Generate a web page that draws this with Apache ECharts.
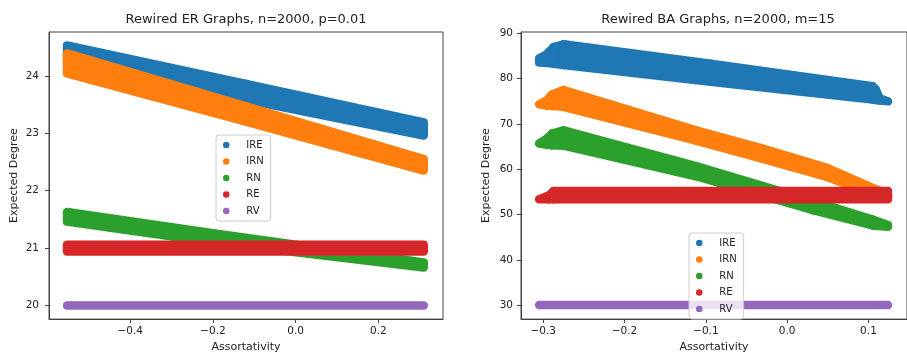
<!DOCTYPE html>
<html><head><meta charset="utf-8">
<script src="https://cdn.jsdelivr.net/npm/echarts@6/dist/echarts.min.js"></script>
<style>html,body{margin:0;padding:0;background:#fff}#c{width:907px;height:358px}</style>
</head><body><div id="c"></div>
<script>
// ---------- data ----------
const seriesNames = ['IRE', 'IRN', 'RN', 'RE', 'RV'];

// Left panel: Rewired ER Graphs (band samples: x, lower and upper extent of the point cloud)
const erIREx  = [-0.553, -0.12, 0.310];
const erIRElo = [24.22, 23.58, 22.96];
const erIREhi = [24.53, 23.86, 23.19];
const erIRNx  = [-0.553, -0.12, 0.310];
const erIRNlo = [24.04, 23.20, 22.35];
const erIRNhi = [24.39, 23.47, 22.55];
const erRNx   = [-0.553, -0.20, 0.310];
const erRNlo  = [21.46, 21.10, 20.66];
const erRNhi  = [21.63, 21.26, 20.75];
const erREx   = [-0.553, 0.310];
const erRElo  = [20.94, 20.94];
const erREhi  = [21.06, 21.06];
const erRVx   = [-0.553, 0.310];
const erRVlo  = [20.0, 20.0];
const erRVhi  = [20.0, 20.0];

// Right panel: Rewired BA Graphs
const baIREx  = [-0.305, -0.297, -0.287, -0.275, -0.094, 0.105, 0.109, 0.114, 0.124];
const baIRElo = [83.6, 83.5, 83.3, 83.0, 79.35, 75.4, 75.3, 75.2, 75.0];
const baIREhi = [84.5, 85.2, 87.0, 87.6, 83.3, 78.35, 77.6, 75.6, 75.0];
const baIRNx  = [-0.305, -0.2965, -0.289, -0.275, -0.112, -0.032, 0.049, 0.113, 0.124];
const baIRNlo = [74.35, 74.1, 73.95, 73.8, 66.3, 62.4, 58.3, 54.0, 53.6];
const baIRNhi = [74.35, 75.1, 76.5, 77.5, 68.6, 64.7, 60.3, 55.3, 54.0];
const baRNx   = [-0.305, -0.295, -0.289, -0.275, -0.112, 0.033, 0.105, 0.124];
const baRNlo  = [65.7, 65.4, 65.3, 65.2, 58.45, 50.9, 47.6, 47.3];
const baRNhi  = [65.7, 66.8, 67.9, 68.6, 60.7, 52.9, 48.9, 47.7];
const baREx   = [-0.305, -0.293, -0.287, 0.124];
const baRElo  = [53.4, 53.4, 53.4, 53.4];
const baREhi  = [53.4, 54.2, 55.2, 55.2];
const baRVx   = [-0.305, 0.124];
const baRVlo  = [30.0, 30.0];
const baRVhi  = [30.0, 30.0];

// Tick labels
const erXTicks = [-0.4, -0.2, 0.0, 0.2];
const erYTicks = [20, 21, 22, 23, 24];
const baXTicks = [-0.3, -0.2, -0.1, 0.0, 0.1];
const baYTicks = [30, 40, 50, 60, 70, 80, 90];

const titles = ['Rewired ER Graphs, n=2000, p=0.01', 'Rewired BA Graphs, n=2000, m=15'];

// ---------- styles ----------
const colors = ['#1f77b4', '#ff7f0e', '#2ca02c', '#d62728', '#9467bd'];
const FONT = 'DejaVu Sans';
const TXT = '#222';
const MARK = 8.5;

function bandSeries(name, color, xs, lo, hi, axisIdx) {
  const data = xs.map((x, i) => [x, lo[i], hi[i]]);
  return {
    type: 'custom', name, xAxisIndex: axisIdx, yAxisIndex: axisIdx, data,
    encode: { x: 0, y: [1, 2] },
    itemStyle: { color },
    silent: true,
    renderItem(params, api) {
      const i = params.dataIndex;
      if (data.length > 1 && i === data.length - 1) return null;
      const a = data[i], b = data[Math.min(i + 1, data.length - 1)];
      const pts = [api.coord([a[0], a[2]]), api.coord([b[0], b[2]]),
                   api.coord([b[0], b[1]]), api.coord([a[0], a[1]])];
      return { type: 'polygon', shape: { points: pts },
        style: { fill: color, stroke: color, lineWidth: MARK, lineJoin: 'round' } };
    }
  };
}

const fmtX = v => (v < 0 ? '\u2212' : '') + Math.abs(v).toFixed(1);

function xAxis(idx, min, max, ticks) {
  return {
    type: 'value', gridIndex: idx, min, max,
    name: 'Assortativity', nameLocation: 'middle', nameGap: 21,
    nameTextStyle: { fontSize: 11, color: TXT, fontFamily: FONT },
    axisLine: { show: true, onZero: false, lineStyle: { color: '#444', width: 1 } },
    axisTick: { show: true, length: 4, customValues: ticks, lineStyle: { color: '#444' } },
    axisLabel: { customValues: ticks, formatter: fmtX, fontSize: 10.5, color: TXT, fontFamily: FONT, margin: 7 },
    splitLine: { show: false }
  };
}
function yAxis(idx, min, max, ticks, margin) {
  return {
    type: 'value', gridIndex: idx, min, max,
    name: 'Expected Degree', nameLocation: 'middle', nameGap: 29,
    nameTextStyle: { fontSize: 11, color: TXT, fontFamily: FONT },
    axisLine: { show: true, onZero: false, lineStyle: { color: '#444', width: 1 } },
    axisTick: { show: true, length: 4, customValues: ticks, lineStyle: { color: '#444' } },
    axisLabel: { customValues: ticks, formatter: v => String(v), fontSize: 10.5, color: TXT, fontFamily: FONT, margin },
    splitLine: { show: false }
  };
}
function legend(left, top) {
  return {
    orient: 'vertical', left, top, icon: 'circle',
    itemWidth: 16, itemHeight: 6.5, itemGap: 4.5,
    padding: [4, 7, 4, 7],
    backgroundColor: 'rgba(255,255,255,0.8)', borderColor: '#cccccc', borderWidth: 1, borderRadius: 3,
    textStyle: { fontSize: 10, color: TXT, fontFamily: FONT, lineHeight: 12, padding: [0, 0, 0, 7] },
    selectedMode: false,
    data: seriesNames.map((n, k) => ({ name: n, itemStyle: { color: colors[k] } }))
  };
}

const er = [[erIREx, erIRElo, erIREhi], [erIRNx, erIRNlo, erIRNhi], [erRNx, erRNlo, erRNhi], [erREx, erRElo, erREhi], [erRVx, erRVlo, erRVhi]];
const ba = [[baIREx, baIRElo, baIREhi], [baIRNx, baIRNlo, baIRNhi], [baRNx, baRNlo, baRNhi], [baREx, baRElo, baREhi], [baRVx, baRVlo, baRVhi]];

const series = [];
er.forEach((s, k) => series.push(bandSeries(seriesNames[k], colors[k], s[0], s[1], s[2], 0)));
ba.forEach((s, k) => series.push(bandSeries(seriesNames[k], colors[k], s[0], s[1], s[2], 1)));

const chart = echarts.init(document.getElementById('c'), null, { renderer: 'canvas' });
chart.setOption({
  animation: false,
  backgroundColor: '#fff',
  textStyle: { fontFamily: FONT },
  title: [
    { text: titles[0], left: 246, top: 13, textAlign: 'center', padding: 0,
      textStyle: { fontSize: 13, fontWeight: 'normal', color: TXT, fontFamily: FONT } },
    { text: titles[1], left: 718, top: 13, textAlign: 'center', padding: 0,
      textStyle: { fontSize: 13, fontWeight: 'normal', color: TXT, fontFamily: FONT } }
  ],
  grid: [
    { left: 49, top: 32, width: 394, height: 293, show: true, borderColor: '#444', borderWidth: 1, backgroundColor: 'transparent', containLabel: false },
    { left: 521, top: 32, width: 394, height: 293, show: true, borderColor: '#444', borderWidth: 1, backgroundColor: 'transparent', containLabel: false }
  ],
  xAxis: [xAxis(0, -0.5966, 0.3566, erXTicks), xAxis(1, -0.3273, 0.1474, baXTicks)],
  yAxis: [yAxis(0, 19.763, 24.763, erYTicks, 10), yAxis(1, 26.9, 90.32, baYTicks, 8)],
  legend: [legend(216, 135), legend(689, 233)],
  series
});
</script>
</body></html>
